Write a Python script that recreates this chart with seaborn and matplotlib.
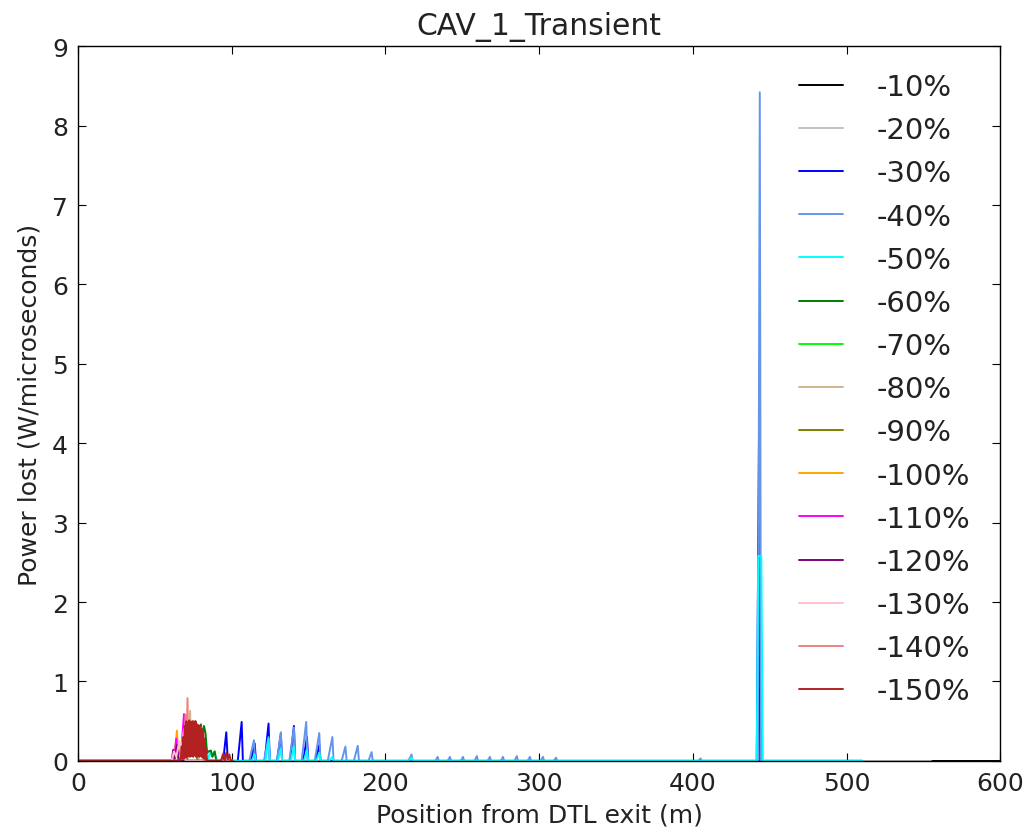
import matplotlib
matplotlib.use("Agg")
import matplotlib.pyplot as plt
import seaborn as sns
from matplotlib.lines import Line2D

# Power lost along the linac for each cavity-field drop of CAV_1
labels = ["-10%", "-20%", "-30%", "-40%", "-50%", "-60%", "-70%", "-80%",
          "-90%", "-100%", "-110%", "-120%", "-130%", "-140%", "-150%"]
colors = ["black", "silver", "blue", "cornflowerblue", "cyan", "green", "lime",
          "tan", "olive", "orange", "magenta", "purple", "pink", "lightcoral",
          "firebrick"]

pos_10 = [0, 600]
pwr_10 = [0, 0]

pos_20 = [0, 555]
pwr_20 = [0, 0]

pos_30 = [0, 94.5, 96.5, 97.5, 104, 106.5, 107.3, 112.5, 115, 115.8, 121.5, 124, 124.8,
          129.5, 132, 132.8, 138, 140.5, 141.3, 146.5, 149, 149.8, 154.5, 157, 157.8,
          441.5, 443, 443.8, 510]
pwr_30 = [0, 0, 0.36, 0, 0, 0.49, 0, 0, 0.22, 0, 0, 0.47, 0,
          0, 0.34, 0, 0, 0.44, 0, 0, 0.30, 0, 0, 0.20, 0,
          0, 4.12, 0, 0]

pos_40 = [0, 111.5, 114.5, 115.3, 121, 124, 124.8, 129.5, 132, 132.8, 137.5, 140.5, 141.3,
          145.5, 148.5, 149.3, 154, 157, 157.8, 162.5, 165.5, 166.3, 171.5, 174, 174.8,
          179.5, 182, 182.8, 189, 191, 191.8, 215, 217, 217.7, 232.5, 234, 234.7,
          240.5, 242, 242.7, 249, 250.5, 251.2, 258, 259.5, 260.2, 266.5, 268, 268.7,
          275, 276.5, 277.2, 284, 285.5, 286.2, 292.5, 294, 294.7, 301, 302.5, 303.2,
          309.5, 311, 311.7, 403.5, 405, 405.7, 442.3, 443.5, 444.3, 510]
pwr_40 = [0, 0, 0.26, 0, 0, 0.30, 0, 0, 0.36, 0, 0, 0.42, 0,
          0, 0.49, 0, 0, 0.35, 0, 0, 0.30, 0, 0, 0.18, 0,
          0, 0.19, 0, 0, 0.11, 0, 0, 0.08, 0, 0, 0.05, 0,
          0, 0.05, 0, 0, 0.05, 0, 0, 0.06, 0, 0, 0.05, 0,
          0, 0.05, 0, 0, 0.06, 0, 0, 0.05, 0, 0, 0.05, 0,
          0, 0.04, 0, 0, 0.03, 0, 0, 8.42, 0, 0]

pos_50 = [0, 84.5, 86, 87, 88.5, 90, 90.5, 113, 115, 115.8, 122, 124, 124.8,
          130, 132, 132.8, 138.5, 140.5, 141.3, 147, 149, 149.8, 155, 157, 157.8,
          163.5, 165.5, 166.3, 215.5, 217, 217.7, 441.5, 442.5, 444.5, 445.5, 510]
pwr_50 = [0, 0, 0.12, 0.06, 0.11, 0.04, 0, 0, 0.08, 0, 0, 0.28, 0,
          0, 0.15, 0, 0, 0.18, 0, 0, 0.14, 0, 0, 0.10, 0,
          0, 0.05, 0, 0, 0.04, 0, 0, 2.58, 2.58, 0, 0]

pos_60 = [0, 70, 72, 74, 76, 78, 80, 81, 82, 83, 84, 85, 86.5, 87.5, 89, 90, 100.5]
pwr_60 = [0, 0, 0.40, 0.10, 0.45, 0.20, 0.46, 0.30, 0.44, 0.35, 0.10, 0.12, 0.13, 0.05, 0.12, 0, 0]

pos_70 = [0, 71, 73, 75, 77, 78.5, 80, 81.5, 83, 100.5]
pwr_70 = [0, 0, 0.35, 0.10, 0.40, 0.15, 0.42, 0.20, 0, 0]

pos_80 = [0, 71, 73, 73.5, 75, 77, 79, 100.5]
pwr_80 = [0, 0, 0.63, 0.10, 0.45, 0.10, 0, 0]

pos_90 = [0, 71, 72.5, 73.5, 75.5, 76.5, 78, 100.5]
pwr_90 = [0, 0, 0.45, 0.10, 0.50, 0.10, 0, 0]

pos_100 = [0, 62.5, 64.4, 65.5, 100.5]
pwr_100 = [0, 0, 0.38, 0, 0]

pos_110 = [0, 62.5, 64, 65, 67.5, 69, 70, 100.5]
pwr_110 = [0, 0, 0.28, 0.05, 0.20, 0.59, 0, 0]

pos_120 = [0, 61, 62, 63, 64.5, 65.5, 100.5]
pwr_120 = [0, 0, 0.14, 0.03, 0.20, 0, 0]

pos_130 = [0, 61, 62.5, 64, 66, 67, 69, 70, 100.5]
pwr_130 = [0, 0, 0.12, 0.05, 0.25, 0.08, 0.40, 0, 0]

pos_140 = [0, 66, 68, 69, 70, 70.5, 71.3, 71.8, 73, 74, 76, 78, 80, 82, 100.5]
pwr_140 = [0, 0, 0.20, 0.05, 0.58, 0.10, 0.79, 0.10, 0.45, 0.10, 0.42, 0.10, 0.35, 0, 0]

pos_150 = [0, 66, 67, 67.5, 68, 68.5, 69, 69.5, 70, 70.5, 71, 71.5, 72, 72.5, 73, 73.5,
           74, 74.5, 75, 75.5, 76, 76.5, 77, 77.5, 78, 78.5, 79, 79.5, 80, 80.5, 81,
           81.5, 82, 82.5, 83, 83.5, 84, 85, 93, 94.5, 95.5, 96.5, 97.5, 98.5, 99.5, 100.5]
pwr_150 = [0, 0, 0.05, 0.18, 0.02, 0.30, 0.03, 0.44, 0.04, 0.50, 0.05, 0.48, 0.06, 0.51, 0.05, 0.49,
           0.06, 0.50, 0.05, 0.47, 0.07, 0.50, 0.05, 0.46, 0.06, 0.45, 0.05, 0.44, 0.06, 0.40, 0.04,
           0.36, 0.03, 0.28, 0.02, 0.15, 0.0, 0.0, 0.0, 0.09, 0.01, 0.10, 0.02, 0.08, 0.0, 0.0]

positions = [pos_10, pos_20, pos_30, pos_40, pos_50, pos_60, pos_70, pos_80,
             pos_90, pos_100, pos_110, pos_120, pos_130, pos_140, pos_150]
powers = [pwr_10, pwr_20, pwr_30, pwr_40, pwr_50, pwr_60, pwr_70, pwr_80,
          pwr_90, pwr_100, pwr_110, pwr_120, pwr_130, pwr_140, pwr_150]

x_ticks = [0, 100, 200, 300, 400, 500, 600]
y_ticks = [0, 1, 2, 3, 4, 5, 6, 7, 8, 9]

sns.set_theme(style="white")
plt.rcParams.update({
    "font.family": ["DejaVu Sans"],
    "axes.edgecolor": "black",
    "axes.linewidth": 1.0,
    "xtick.direction": "in",
    "ytick.direction": "in",
    "xtick.top": True,
    "ytick.right": True,
    "xtick.bottom": True,
    "ytick.left": True,
    "xtick.major.size": 6,
    "ytick.major.size": 6,
    "xtick.major.width": 0.8,
    "ytick.major.width": 0.8,
    "xtick.color": "black",
    "ytick.color": "black",
    "text.color": "#222222",
    "axes.labelcolor": "#222222",
})

fig = plt.figure(figsize=(10.25, 8.29), dpi=100)
ax = fig.add_axes([0.076, 0.081, 0.9, 0.862])

for xs, ys, c, lab in zip(positions, powers, colors, labels):
    sns.lineplot(x=xs, y=ys, color=c, label=lab, linewidth=1.4,
                 estimator=None, sort=False, ax=ax)

ax.set_xlim(0, 600)
ax.set_ylim(0, 9)
ax.set_xticks(x_ticks)
ax.set_yticks(y_ticks)
ax.tick_params(labelsize=18, pad=7, labelcolor="#222222")
ax.set_xlabel("Position from DTL exit (m)", fontsize=18, labelpad=6)
ax.set_ylabel("Power lost (W/microseconds)", fontsize=18, labelpad=8)
ax.set_title("CAV_1_Transient", fontsize=21.5, pad=9)

handles = [Line2D([], [], color=c, linewidth=1.4) for c in colors]
ax.legend(handles, labels, loc="upper right", frameon=False, fontsize=21,
          handlelength=1.5, handletextpad=1.15, labelspacing=0.52,
          bbox_to_anchor=(0.985, 0.985), borderaxespad=0.15)

fig.savefig("out.png", dpi=100)
